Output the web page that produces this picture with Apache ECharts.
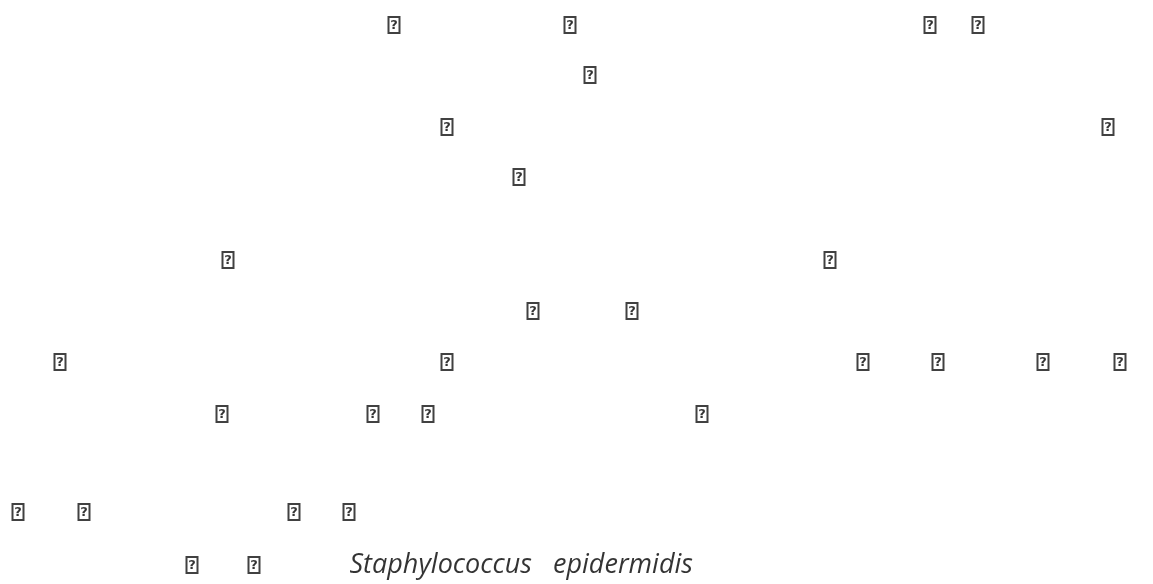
<!DOCTYPE html>
<html>
<head>
<meta charset="utf-8">
<script src="https://cdn.jsdelivr.net/npm/echarts@6/dist/echarts.min.js"></script>
<style>
  html, body { margin: 0; padding: 0; background: #fff; }
  #chart { width: 1153px; height: 584px; }
</style>
</head>
<body>
<div id="chart"></div>
<script>
// line positions (page units, top = 0) and glyph positions per line
const lineY = [25, 75, 127, 177, 260, 311, 362, 414, 512, 565]
const glyphX = [
  [394, 570, 930, 978],
  [590],
  [447, 1108],
  [519],
  [228, 830],
  [533, 632],
  [60, 447, 863, 938, 1043, 1120],
  [222, 373, 428, 702],
  [18, 84, 294, 349],
  [192, 254]
]
// the source font could not show these glyphs, only its "missing" box
const missingGlyph = '?'
const speciesName = 'Staphylococcus   epidermidis'
const speciesX = 349
const speciesLine = 9

let chart = echarts.init(document.getElementById('chart'))

let glyphData = []
glyphX.forEach((xs, i) => {
  for (let x of xs) {
    glyphData.push([x, lineY[i]])
  }
})

chart.setOption({
  animation: false,
  grid: { left: 0, right: 0, top: 0, bottom: 0 },
  xAxis: { type: 'value', min: 0, max: 1153, show: false },
  yAxis: { type: 'value', min: 0, max: 584, inverse: true, show: false },
  series: [
    {
      type: 'scatter',
      data: glyphData,
      symbolSize: 1,
      itemStyle: { color: 'transparent' },
      label: {
        show: true,
        position: 'inside',
        formatter: () => '{g|' + missingGlyph + '}',
        rich: {
          g: {
            fontFamily: 'DejaVu Sans',
            fontSize: 13,
            fontWeight: 'bold',
            color: '#000',
            width: 9,
            height: 15,
            lineHeight: 15,
            align: 'center',
            borderColor: '#111',
            borderWidth: 2,
            padding: [1, 1, 0, 1]
          }
        }
      }
    },
    {
      type: 'scatter',
      data: [[speciesX, lineY[speciesLine]]],
      symbolSize: 1,
      itemStyle: { color: 'transparent' },
      label: {
        show: true,
        position: 'right',
        distance: 0,
        formatter: () => speciesName,
        fontFamily: 'Open Sans',
        fontStyle: 'italic',
        fontSize: 27,
        color: '#000'
      }
    }
  ]
})
</script>
</body>
</html>
